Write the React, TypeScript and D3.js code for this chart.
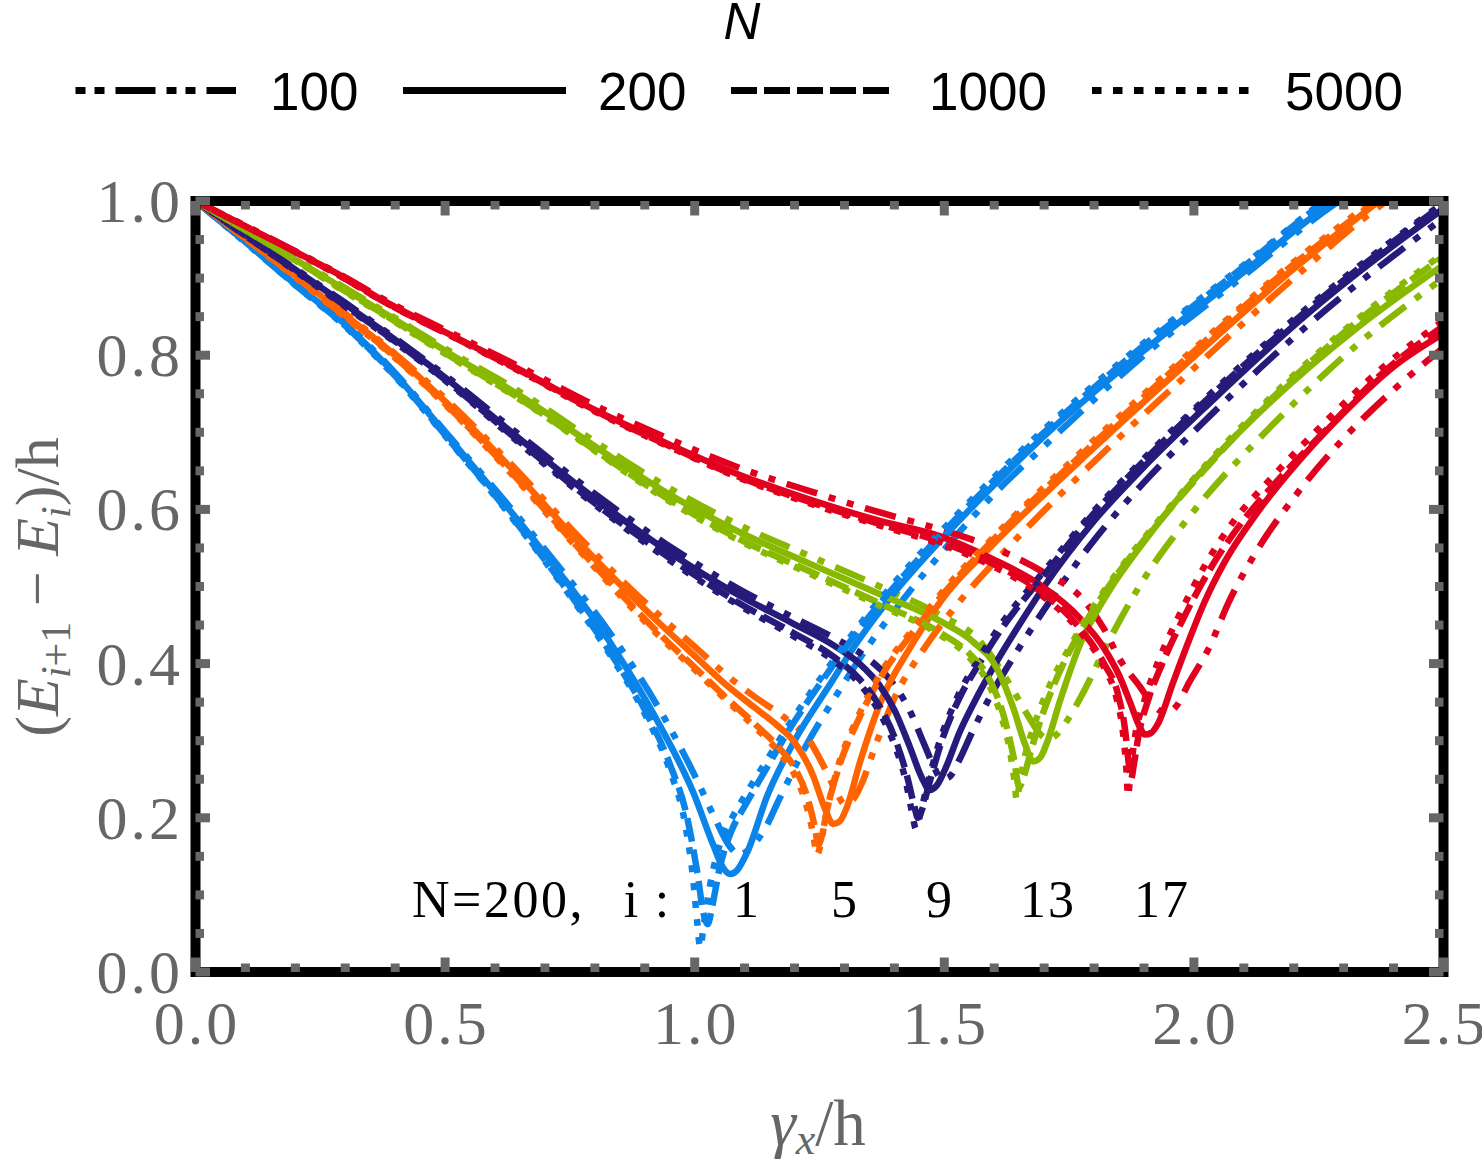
import React from 'react';
import * as d3 from 'd3';

// ---- axis ticks -------------------------------------------------------------
const X_MAJOR = [0, 0.5, 1.0, 1.5, 2.0, 2.5];
const X_LABELS = ['0.0', '0.5', '1.0', '1.5', '2.0', '2.5'];
const Y_MAJOR = [0, 0.2, 0.4, 0.6, 0.8, 1.0];
const Y_LABELS = ['0.0', '0.2', '0.4', '0.6', '0.8', '1.0'];
const X_MINOR_STEP = 0.1;
const Y_MINOR_STEP = 0.05;

// ---- series definitions ------------------------------------------------------
const LEVELS = [1, 5, 9, 13, 17];
const LEVEL_COLORS = ['#0a84e8', '#ff6400', '#261b7a', '#89b800', '#e2001e'];
const SIZES = [100, 200, 1000, 5000];
const SIZE_LABELS = ['100', '200', '1000', '5000'];

// gap (E_{i+1}-E_i)/h against gamma_x/h, as [gamma, gap] pairs
const gap1_N100 = [[0,1],[0.1,0.947],[0.2,0.893],[0.3,0.842],[0.4,0.777],[0.512,0.692],[0.6,0.626],[0.73,0.524],[0.83,0.44],[0.93,0.34],[1.0,0.255],[1.04,0.2],[1.07,0.163],[1.09,0.152],[1.11,0.16],[1.14,0.185],[1.17,0.225],[1.22,0.29],[1.28,0.355],[1.35,0.425],[1.42,0.485],[1.5,0.548],[1.6,0.62],[1.7,0.682],[1.9,0.8],[2.1,0.903],[2.28,0.995],[2.32,1.012]];
const gap1_N200 = [[0,1],[0.1,0.947],[0.2,0.892],[0.3,0.84],[0.4,0.775],[0.512,0.69],[0.6,0.622],[0.656,0.578],[0.73,0.517],[0.83,0.428],[0.93,0.32],[0.997,0.233],[1.037,0.165],[1.058,0.134],[1.071,0.127],[1.085,0.132],[1.105,0.155],[1.145,0.228],[1.2,0.3],[1.265,0.367],[1.33,0.432],[1.4,0.492],[1.5,0.565],[1.6,0.632],[1.7,0.695],[1.9,0.806],[2.1,0.908],[2.26,0.99],[2.31,1.012]];
const gap1_N1000 = [[0,1],[0.1,0.947],[0.2,0.891],[0.3,0.838],[0.4,0.773],[0.512,0.687],[0.6,0.618],[0.73,0.508],[0.83,0.415],[0.9,0.34],[0.95,0.27],[0.985,0.2],[1.005,0.13],[1.018,0.075],[1.026,0.062],[1.035,0.085],[1.05,0.135],[1.075,0.185],[1.1,0.215],[1.14,0.26],[1.19,0.315],[1.26,0.382],[1.33,0.445],[1.4,0.5],[1.5,0.572],[1.6,0.638],[1.7,0.7],[1.9,0.813],[2.1,0.915],[2.25,0.993],[2.3,1.015]];
const gap1_N5000 = [[0,1],[0.1,0.946],[0.2,0.891],[0.3,0.837],[0.4,0.772],[0.512,0.686],[0.6,0.617],[0.73,0.506],[0.83,0.412],[0.9,0.335],[0.95,0.262],[0.98,0.195],[0.997,0.12],[1.005,0.065],[1.011,0.032],[1.018,0.06],[1.03,0.11],[1.05,0.165],[1.075,0.2],[1.1,0.228],[1.14,0.27],[1.19,0.322],[1.26,0.388],[1.33,0.45],[1.4,0.505],[1.5,0.576],[1.6,0.642],[1.7,0.704],[1.9,0.816],[2.1,0.917],[2.25,0.995],[2.3,1.02]];

const gap5_N100 = [[0,1],[0.1,0.952],[0.2,0.904],[0.3,0.854],[0.37,0.818],[0.5,0.744],[0.63,0.66],[0.77,0.563],[0.87,0.498],[0.93,0.462],[1.0,0.422],[1.064,0.385],[1.12,0.357],[1.18,0.33],[1.23,0.3],[1.26,0.265],[1.285,0.232],[1.3,0.218],[1.315,0.222],[1.335,0.245],[1.36,0.29],[1.4,0.355],[1.46,0.42],[1.53,0.48],[1.62,0.545],[1.8,0.662],[2.0,0.783],[2.2,0.9],[2.38,0.997],[2.42,1.015]];
const gap5_N200 = [[0,1],[0.1,0.952],[0.2,0.903],[0.3,0.852],[0.37,0.816],[0.5,0.74],[0.63,0.655],[0.77,0.556],[0.87,0.49],[0.93,0.452],[1.0,0.41],[1.064,0.372],[1.12,0.343],[1.165,0.32],[1.2,0.298],[1.237,0.255],[1.262,0.21],[1.277,0.192],[1.29,0.195],[1.305,0.214],[1.331,0.272],[1.371,0.348],[1.431,0.42],[1.5,0.487],[1.6,0.556],[1.8,0.68],[2.0,0.798],[2.2,0.912],[2.365,0.997],[2.42,1.025]];
const gap5_N1000 = [[0,1],[0.1,0.951],[0.2,0.902],[0.3,0.85],[0.37,0.814],[0.5,0.737],[0.63,0.65],[0.77,0.548],[0.87,0.478],[0.93,0.438],[1.0,0.395],[1.064,0.355],[1.12,0.322],[1.17,0.29],[1.2,0.265],[1.225,0.228],[1.24,0.19],[1.248,0.165],[1.254,0.175],[1.265,0.21],[1.29,0.268],[1.33,0.33],[1.38,0.39],[1.44,0.443],[1.5,0.492],[1.6,0.562],[1.8,0.686],[2.0,0.805],[2.2,0.918],[2.36,0.998],[2.42,1.03]];
const gap5_N5000 = [[0,1],[0.1,0.951],[0.2,0.901],[0.3,0.849],[0.37,0.813],[0.5,0.736],[0.63,0.648],[0.77,0.546],[0.87,0.475],[0.93,0.435],[1.0,0.392],[1.064,0.352],[1.12,0.318],[1.17,0.284],[1.2,0.256],[1.222,0.22],[1.237,0.18],[1.245,0.152],[1.252,0.165],[1.262,0.2],[1.285,0.262],[1.325,0.328],[1.375,0.39],[1.44,0.447],[1.5,0.496],[1.6,0.565],[1.8,0.69],[2.0,0.808],[2.2,0.921],[2.355,0.999],[2.42,1.033]];

const gap9_N100 = [[0,1],[0.1,0.956],[0.2,0.912],[0.3,0.868],[0.37,0.836],[0.512,0.768],[0.656,0.693],[0.8,0.62],[0.943,0.555],[1.085,0.498],[1.197,0.46],[1.28,0.433],[1.34,0.41],[1.39,0.38],[1.43,0.34],[1.46,0.295],[1.48,0.265],[1.495,0.25],[1.51,0.253],[1.53,0.275],[1.555,0.31],[1.59,0.355],[1.64,0.41],[1.7,0.47],[1.8,0.56],[1.9,0.635],[2.03,0.72],[2.23,0.84],[2.5,0.978]];
const gap9_N200 = [[0,1],[0.1,0.956],[0.2,0.911],[0.3,0.866],[0.37,0.834],[0.512,0.765],[0.656,0.688],[0.8,0.614],[0.943,0.547],[1.085,0.49],[1.197,0.452],[1.28,0.423],[1.33,0.4],[1.37,0.372],[1.4,0.34],[1.431,0.292],[1.455,0.252],[1.471,0.236],[1.485,0.242],[1.505,0.268],[1.53,0.31],[1.56,0.35],[1.6,0.397],[1.65,0.45],[1.7,0.5],[1.8,0.585],[1.9,0.655],[2.03,0.737],[2.23,0.855],[2.5,0.99]];
const gap9_N1000 = [[0,1],[0.1,0.955],[0.2,0.91],[0.3,0.864],[0.37,0.832],[0.512,0.762],[0.656,0.684],[0.8,0.608],[0.943,0.54],[1.085,0.48],[1.197,0.44],[1.28,0.408],[1.33,0.38],[1.37,0.345],[1.4,0.305],[1.425,0.255],[1.44,0.215],[1.447,0.2],[1.455,0.21],[1.47,0.245],[1.495,0.3],[1.53,0.355],[1.57,0.4],[1.62,0.45],[1.7,0.515],[1.8,0.595],[1.9,0.663],[2.03,0.745],[2.23,0.86],[2.5,0.996]];
const gap9_N5000 = [[0,1],[0.1,0.955],[0.2,0.909],[0.3,0.863],[0.37,0.831],[0.512,0.761],[0.656,0.682],[0.8,0.606],[0.943,0.537],[1.085,0.477],[1.197,0.436],[1.28,0.403],[1.33,0.374],[1.37,0.337],[1.4,0.295],[1.422,0.25],[1.436,0.205],[1.443,0.186],[1.45,0.2],[1.465,0.24],[1.49,0.298],[1.525,0.355],[1.565,0.402],[1.615,0.452],[1.7,0.52],[1.8,0.598],[1.9,0.666],[2.03,0.748],[2.23,0.863],[2.5,0.998]];

const gap13_N100 = [[0,1],[0.1,0.962],[0.2,0.925],[0.3,0.887],[0.37,0.86],[0.512,0.804],[0.656,0.75],[0.8,0.688],[0.943,0.63],[1.085,0.581],[1.229,0.54],[1.371,0.5],[1.492,0.463],[1.57,0.43],[1.632,0.372],[1.668,0.332],[1.69,0.31],[1.708,0.302],[1.725,0.308],[1.746,0.326],[1.778,0.362],[1.83,0.43],[1.9,0.51],[1.99,0.59],[2.158,0.71],[2.326,0.813],[2.5,0.9]];
const gap13_N200 = [[0,1],[0.1,0.962],[0.2,0.924],[0.3,0.885],[0.37,0.858],[0.512,0.801],[0.656,0.745],[0.8,0.682],[0.943,0.622],[1.085,0.572],[1.229,0.53],[1.371,0.49],[1.492,0.455],[1.558,0.428],[1.606,0.393],[1.638,0.343],[1.662,0.295],[1.678,0.273],[1.692,0.278],[1.706,0.298],[1.732,0.352],[1.772,0.425],[1.826,0.49],[1.9,0.558],[1.992,0.632],[2.158,0.742],[2.326,0.835],[2.5,0.917]];
const gap13_N1000 = [[0,1],[0.1,0.962],[0.2,0.923],[0.3,0.883],[0.37,0.856],[0.512,0.798],[0.656,0.741],[0.8,0.677],[0.943,0.615],[1.085,0.563],[1.229,0.52],[1.371,0.478],[1.492,0.44],[1.55,0.413],[1.59,0.38],[1.62,0.33],[1.64,0.275],[1.65,0.24],[1.66,0.255],[1.675,0.29],[1.7,0.34],[1.735,0.395],[1.78,0.45],[1.84,0.51],[1.92,0.576],[2.0,0.636],[2.158,0.745],[2.326,0.843],[2.5,0.928]];
const gap13_N5000 = [[0,1],[0.1,0.962],[0.2,0.923],[0.3,0.882],[0.37,0.855],[0.512,0.797],[0.656,0.74],[0.8,0.676],[0.943,0.613],[1.085,0.561],[1.229,0.517],[1.371,0.475],[1.492,0.437],[1.55,0.408],[1.59,0.372],[1.615,0.33],[1.632,0.285],[1.641,0.245],[1.645,0.223],[1.65,0.24],[1.66,0.275],[1.68,0.32],[1.71,0.37],[1.75,0.42],[1.8,0.475],[1.86,0.53],[1.93,0.586],[2.0,0.64],[2.158,0.748],[2.326,0.846],[2.5,0.932]];

const gap17_N100 = [[0,1],[0.1,0.968],[0.2,0.935],[0.3,0.901],[0.37,0.875],[0.512,0.829],[0.656,0.783],[0.8,0.735],[0.943,0.693],[1.085,0.655],[1.229,0.624],[1.371,0.596],[1.492,0.574],[1.6,0.55],[1.7,0.518],[1.775,0.485],[1.82,0.445],[1.852,0.405],[1.892,0.37],[1.92,0.345],[1.945,0.336],[1.965,0.345],[1.99,0.375],[2.03,0.42],[2.07,0.48],[2.12,0.54],[2.2,0.615],[2.3,0.692],[2.4,0.755],[2.5,0.81]];
const gap17_N200 = [[0,1],[0.1,0.967],[0.2,0.934],[0.3,0.9],[0.37,0.873],[0.512,0.826],[0.656,0.779],[0.8,0.729],[0.943,0.686],[1.085,0.646],[1.229,0.613],[1.371,0.585],[1.492,0.565],[1.592,0.537],[1.692,0.502],[1.77,0.46],[1.82,0.42],[1.85,0.385],[1.872,0.35],[1.89,0.32],[1.902,0.308],[1.914,0.31],[1.928,0.322],[1.958,0.375],[1.99,0.43],[2.02,0.478],[2.06,0.53],[2.126,0.595],[2.2,0.655],[2.3,0.725],[2.4,0.785],[2.5,0.828]];
const gap17_N1000 = [[0,1],[0.1,0.967],[0.2,0.934],[0.3,0.899],[0.37,0.872],[0.512,0.825],[0.656,0.778],[0.8,0.728],[0.943,0.684],[1.085,0.643],[1.229,0.61],[1.371,0.581],[1.492,0.558],[1.592,0.531],[1.692,0.494],[1.77,0.447],[1.82,0.4],[1.848,0.36],[1.862,0.315],[1.87,0.268],[1.874,0.25],[1.88,0.27],[1.89,0.31],[1.908,0.352],[1.94,0.405],[1.98,0.46],[2.03,0.52],[2.09,0.578],[2.16,0.632],[2.26,0.7],[2.38,0.778],[2.5,0.838]];
const gap17_N5000 = [[0,1],[0.1,0.967],[0.2,0.934],[0.3,0.899],[0.37,0.872],[0.512,0.825],[0.656,0.777],[0.8,0.727],[0.943,0.683],[1.085,0.642],[1.229,0.608],[1.371,0.579],[1.492,0.555],[1.592,0.528],[1.692,0.49],[1.77,0.443],[1.82,0.395],[1.845,0.355],[1.858,0.31],[1.865,0.26],[1.868,0.228],[1.873,0.26],[1.882,0.305],[1.9,0.35],[1.93,0.405],[1.97,0.462],[2.02,0.525],[2.08,0.585],[2.15,0.637],[2.25,0.705],[2.38,0.785],[2.5,0.845]];

const GAP_DATA: Record<number, number[][][]> = {
  1: [gap1_N100, gap1_N200, gap1_N1000, gap1_N5000],
  5: [gap5_N100, gap5_N200, gap5_N1000, gap5_N5000],
  9: [gap9_N100, gap9_N200, gap9_N1000, gap9_N5000],
  13: [gap13_N100, gap13_N200, gap13_N1000, gap13_N5000],
  17: [gap17_N100, gap17_N200, gap17_N1000, gap17_N5000],
};

// ---- styling ------------------------------------------------------------------
const W = 1482;
const H = 1162;
const PLOT = { left: 195.5, right: 1443.5, top: 201, bottom: 972 };
const CURVE_DASH = ['32 12 7 12 7 12', 'none', '24 8', '7 11'];
const LEGEND_DASH = ['10 9 10 11 40 11', 'none', '26 7', '9.5 11.5'];
const LEGEND_ITEMS = [
  { x0: 75.5, x1: 236, tx: 270 },
  { x0: 403, x1: 566, tx: 598 },
  { x0: 731, x1: 890, tx: 929 },
  { x0: 1092, x1: 1249, tx: 1285 },
];
const GRAY = '#666666';
const SERIF = '"Liberation Serif", "Times New Roman", serif';
const SANS = '"Liberation Sans", Arial, sans-serif';

export default function App() {
  const x = d3.scaleLinear().domain([0, 2.5]).range([PLOT.left, PLOT.right]);
  const y = d3.scaleLinear().domain([0, 1]).range([PLOT.bottom, PLOT.top]);
  const line = d3
    .line<number[]>()
    .x((d) => x(d[0]))
    .y((d) => y(d[1]))
    .curve(d3.curveMonotoneX);

  const xMinor = d3
    .range(0, 2.5 + 1e-9, X_MINOR_STEP)
    .filter((v) => X_MAJOR.every((m) => Math.abs(m - v) > 1e-6));
  const yMinor = d3
    .range(0, 1 + 1e-9, Y_MINOR_STEP)
    .filter((v) => Y_MAJOR.every((m) => Math.abs(m - v) > 1e-6));

  const MINOR_LEN = 8.5;
  const MAJOR_LEN = 14.5;
  const TICK_W = 9;

  const tickMarks: JSX.Element[] = [];
  const pushX = (v: number, len: number, key: string) => {
    const px = x(v);
    tickMarks.push(<line key={key + 'b'} x1={px} x2={px} y1={PLOT.bottom} y2={PLOT.bottom - len} />);
    tickMarks.push(<line key={key + 't'} x1={px} x2={px} y1={PLOT.top} y2={PLOT.top + len} />);
  };
  const pushY = (v: number, len: number, key: string) => {
    const py = y(v);
    tickMarks.push(<line key={key + 'l'} x1={PLOT.left} x2={PLOT.left + len} y1={py} y2={py} />);
    tickMarks.push(<line key={key + 'r'} x1={PLOT.right} x2={PLOT.right - len} y1={py} y2={py} />);
  };
  xMinor.forEach((v, k) => pushX(v, MINOR_LEN, 'xm' + k));
  yMinor.forEach((v, k) => pushY(v, MINOR_LEN, 'ym' + k));
  X_MAJOR.forEach((v, k) => pushX(v, MAJOR_LEN, 'xM' + k));
  Y_MAJOR.forEach((v, k) => pushY(v, MAJOR_LEN, 'yM' + k));

  // draw all N=100 curves first, then N=200, ...
  const curves: JSX.Element[] = [];
  SIZES.forEach((n, si) => {
    LEVELS.forEach((lev, li) => {
      curves.push(
        <path
          key={`c${lev}-${n}`}
          d={line(GAP_DATA[lev][si] as number[][]) || ''}
          fill="none"
          stroke={LEVEL_COLORS[li]}
          strokeWidth={6.5}
          strokeDasharray={CURVE_DASH[si]}
          strokeLinecap="butt"
          strokeLinejoin="round"
        />
      );
    });
  });

  const annotation = [
    { t: '1', cx: 747 },
    { t: '5', cx: 845 },
    { t: '9', cx: 940 },
    { t: '13', cx: 1048 },
    { t: '17', cx: 1162 },
  ];

  return (
    <svg
      width={W}
      height={H}
      viewBox={`0 0 ${W} ${H}`}
      style={{ position: 'absolute', left: 0, top: 0, display: 'block', background: '#fff' }}
    >
      <rect x={0} y={0} width={W} height={H} fill="#fff" />
      <defs>
        <clipPath id="plot-area">
          <rect x={PLOT.left} y={PLOT.top} width={PLOT.right - PLOT.left} height={PLOT.bottom - PLOT.top} />
        </clipPath>
      </defs>

      {/* legend */}
      <text x={742} y={39} fontFamily={SANS} fontStyle="italic" fontSize={51} textAnchor="middle" fill="#000">
        N
      </text>
      {SIZES.map((n, si) => (
        <g key={`lg${n}`}>
          <line
            x1={LEGEND_ITEMS[si].x0}
            x2={LEGEND_ITEMS[si].x1}
            y1={90.5}
            y2={90.5}
            stroke="#000"
            strokeWidth={7}
            strokeDasharray={LEGEND_DASH[si]}
          />
          <text x={LEGEND_ITEMS[si].tx} y={109.5} fontFamily={SANS} fontSize={53} fill="#000">
            {SIZE_LABELS[si]}
          </text>
        </g>
      ))}

      {/* curves */}
      <g clipPath="url(#plot-area)">{curves}</g>

      {/* frame and ticks */}
      <rect
        x={PLOT.left}
        y={PLOT.top}
        width={PLOT.right - PLOT.left}
        height={PLOT.bottom - PLOT.top}
        fill="none"
        stroke="#000"
        strokeWidth={10}
      />
      <g stroke={GRAY} strokeWidth={TICK_W}>{tickMarks}</g>

      {/* tick labels */}
      {X_MAJOR.map((v, k) => (
        <text
          key={`xl${k}`}
          x={x(v) + 1.5}
          y={1044}
          fontFamily={SERIF}
          fontSize={62}
          letterSpacing={3}
          textAnchor="middle"
          fill={GRAY}
        >
          {X_LABELS[k]}
        </text>
      ))}
      {Y_MAJOR.map((v, k) => (
        <text
          key={`yl${k}`}
          x={183}
          y={y(v) + 21}
          fontFamily={SERIF}
          fontSize={62}
          letterSpacing={3}
          textAnchor="end"
          fill={GRAY}
        >
          {Y_LABELS[k]}
        </text>
      ))}

      {/* axis titles */}
      <text x={818} y={1145} fontFamily={SERIF} fontSize={65} textAnchor="middle" fill={GRAY}>
        <tspan fontStyle="italic">γ</tspan>
        <tspan fontStyle="italic" fontSize={44} dy={9}>x</tspan>
        <tspan dy={-9}>/h</tspan>
      </text>
      <text
        transform="translate(58,587) rotate(-90)"
        fontFamily={SERIF}
        fontSize={62}
        textAnchor="middle"
        fill={GRAY}
      >
        <tspan>(</tspan>
        <tspan fontStyle="italic">E</tspan>
        <tspan fontSize={42} dy={12}>
          <tspan fontStyle="italic">i</tspan>+1
        </tspan>
        <tspan dy={-12}> − </tspan>
        <tspan fontStyle="italic">E</tspan>
        <tspan fontSize={42} fontStyle="italic" dy={12}>i</tspan>
        <tspan dy={-12}>)/h</tspan>
      </text>

      {/* level annotation */}
      <text x={412} y={917} fontFamily={SERIF} fontSize={52} letterSpacing={2.5} fill="#000">
        N=200,
      </text>
      <text x={631} y={917} fontFamily={SERIF} fontSize={52} textAnchor="middle" fill="#000">
        i
      </text>
      <text x={662} y={917} fontFamily={SERIF} fontSize={52} textAnchor="middle" fill="#000">
        :
      </text>
      {annotation.map((a) => (
        <text
          key={`an${a.t}`}
          x={a.cx}
          y={917}
          fontFamily={SERIF}
          fontSize={52}
          letterSpacing={2}
          textAnchor="middle"
          fill="#000"
        >
          {a.t}
        </text>
      ))}
    </svg>
  );
}
